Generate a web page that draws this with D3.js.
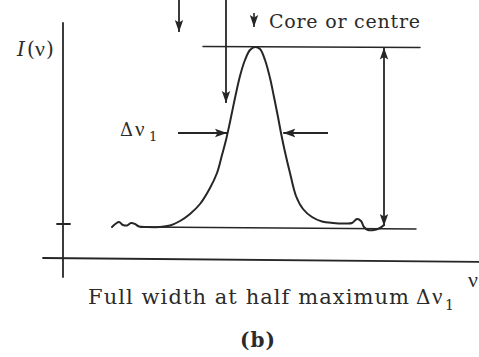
<!DOCTYPE html>
<html>
<head>
<meta charset="utf-8">
<script src="https://cdn.jsdelivr.net/npm/d3@7/dist/d3.min.js"></script>
<style>
  html, body { margin: 0; padding: 0; background: #fff; }
  svg { display: block; }
  text { font-family: "DejaVu Serif", "Liberation Serif", serif; fill: #2b2b2b; }
  .greek { font-family: "Liberation Serif", serif; }
</style>
</head>
<body>
<svg id="chart" width="479" height="357"></svg>
<script>
// Spectral line profile I(ν): frequency ν (arbitrary units) and intensity I
const nu = [12.25, 13.25, 14, 15, 16, 17, 18, 19, 21, 24.25, 26.75, 29.25, 31.75, 34.25,
  36.75, 38.5, 39.75, 40.75, 41.75, 43, 44.25, 45.5, 46.75, 48, 49.25, 50.5, 51.75,
  52.75, 53.75, 54.5, 55.5, 56.75, 58.25, 60, 62.25, 64.75, 67.5, 70.5, 72.25, 73.5,
  74.5, 75.25, 76.25, 77.75, 79.25, 80.25];
const intensity = [15.5, 17.25, 18, 16.5, 16.25, 17.5, 17, 15.75, 15.5, 15.5, 16.25,
  18.5, 22, 27, 35, 42.5, 51.5, 59, 68, 80, 91, 99, 104, 105.5, 104.5, 99, 90, 80.5,
  70.5, 62.5, 53, 42.5, 31, 24.5, 20.5, 18.25, 17.5, 17.25, 17.5, 19.5, 18.5, 15.5,
  14, 14, 15, 16.5];

// Reference levels of the profile
const peakLevel = 105.5;     // line core maximum
const baseLevel = 15;        // continuum level
const halfLevel = 62.5;      // level where the full width is measured
const halfLeftNu = 41, halfRightNu = 54.75;

// Text labels
const yLabel = "I";
const coreLabel = "Core or centre";
const widthLabel = "Full width at half maximum";
const deltaSymbol = "Δ";
const nuSymbol = "ν";
const subLabel = "1";
const panelLabel = "(b)";

const svg = d3.select("#chart");
const x = d3.scaleLinear().domain([0, 100]).range([63, 463]);
const y = d3.scaleLinear().domain([0, 100]).range([258, 58]);

const ink = "#262626";

// Arrowhead marker
const defs = svg.append("defs");
defs.append("marker")
  .attr("id", "head")
  .attr("markerUnits", "userSpaceOnUse")
  .attr("viewBox", "0 -5 12 10")
  .attr("refX", 12).attr("refY", 0)
  .attr("markerWidth", 12).attr("markerHeight", 10)
  .attr("orient", "auto-start-reverse")
  .append("path")
  .attr("d", "M0,-4.2L12,0L0,4.2L2.5,0Z")
  .attr("fill", ink);

const g = svg.append("g")
  .attr("stroke", ink)
  .attr("stroke-width", 1.8)
  .attr("fill", "none")
  .attr("stroke-linecap", "round");

// Axes (plain frame lines with a single tick at the continuum level)
g.append("line")
  .attr("x1", x(0)).attr("x2", x(0))
  .attr("y1", y(117.5)).attr("y2", y(-9.5));
g.append("line")
  .attr("x1", x(-5)).attr("x2", x(105))
  .attr("y1", y(0)).attr("y2", y(-2));
g.append("line")
  .attr("x1", x(-1.5)).attr("x2", x(1.75))
  .attr("y1", y(17)).attr("y2", y(17));

// Continuum and peak guide lines
g.append("line")
  .attr("stroke-width", 1.5)
  .attr("x1", x(20)).attr("x2", x(88.25))
  .attr("y1", y(baseLevel + 0.5)).attr("y2", y(baseLevel - 0.5));
g.append("line")
  .attr("stroke-width", 1.5)
  .attr("x1", x(35)).attr("x2", x(89.25))
  .attr("y1", y(peakLevel + 0.3)).attr("y2", y(peakLevel - 0.3));

// Line profile
const pts = nu.map((v, i) => [v, intensity[i]]);
g.append("path")
  .datum(pts)
  .attr("stroke-width", 2)
  .attr("stroke-linejoin", "round")
  .attr("d", d3.line().x(d => x(d[0])).y(d => y(d[1])).curve(d3.curveCatmullRom.alpha(0.5)));

// Arrows
function arrow(x1, y1, x2, y2, both) {
  const l = g.append("line")
    .attr("x1", x(x1)).attr("y1", y(y1))
    .attr("x2", x(x2)).attr("y2", y(y2))
    .attr("stroke-linecap", "butt")
    .attr("marker-end", "url(#head)");
  if (both) l.attr("marker-start", "url(#head)");
  return l;
}
arrow(29, 129, 29, 113);
arrow(40.75, 129, 40.75, 77.5);
arrow(47.75, 122.5, 47.75, 115.5).attr("stroke-width", 1.6);
arrow(28.75, halfLevel, halfLeftNu, halfLevel);
arrow(66.25, halfLevel, halfRightNu + 0.3, halfLevel);
arrow(80.25, baseLevel + 1, 80.25, peakLevel - 0.3, true);

// Labels
function label(px, py, parts) {
  const t = svg.append("text").attr("x", px).attr("y", py);
  parts.forEach(p => {
    const s = t.append("tspan").text(p.text).attr("font-size", p.size);
    if (p.cls) s.attr("class", p.cls);
    if (p.italic) s.attr("font-style", "italic");
    if (p.bold) s.attr("font-weight", "bold");
    if (p.x != null) s.attr("x", p.x);
    if (p.y != null) s.attr("y", p.y);
  });
  return t;
}

label(17, 56, [
  { text: yLabel, size: 20, italic: true },
  { text: "(", size: 20, x: 27 },
  { text: nuSymbol, size: 22, cls: "greek", x: 35 },
  { text: ")", size: 20, x: 46 }
]);

label(120, 136, [
  { text: deltaSymbol, size: 18 },
  { text: nuSymbol, size: 21, cls: "greek", x: 135 },
  { text: subLabel, size: 13, x: 149, y: 141 }
]);

svg.append("text").attr("x", 269).attr("y", 28).attr("font-size", 19)
  .attr("textLength", 151).attr("lengthAdjust", "spacing").text(coreLabel);

svg.append("text").attr("x", 88).attr("y", 304).attr("font-size", 21)
  .attr("textLength", 321).attr("lengthAdjust", "spacing").text(widthLabel);
label(416, 304, [
  { text: deltaSymbol, size: 20 },
  { text: nuSymbol, size: 23, cls: "greek", x: 432 },
  { text: subLabel, size: 14, x: 445, y: 310 }
]);

label(468, 287, [{ text: nuSymbol, size: 22, cls: "greek" }]);

svg.append("text").attr("x", 240).attr("y", 347).attr("font-size", 20)
  .attr("font-weight", "bold")
  .attr("textLength", 35).attr("lengthAdjust", "spacing").text(panelLabel);
</script>
</body>
</html>
